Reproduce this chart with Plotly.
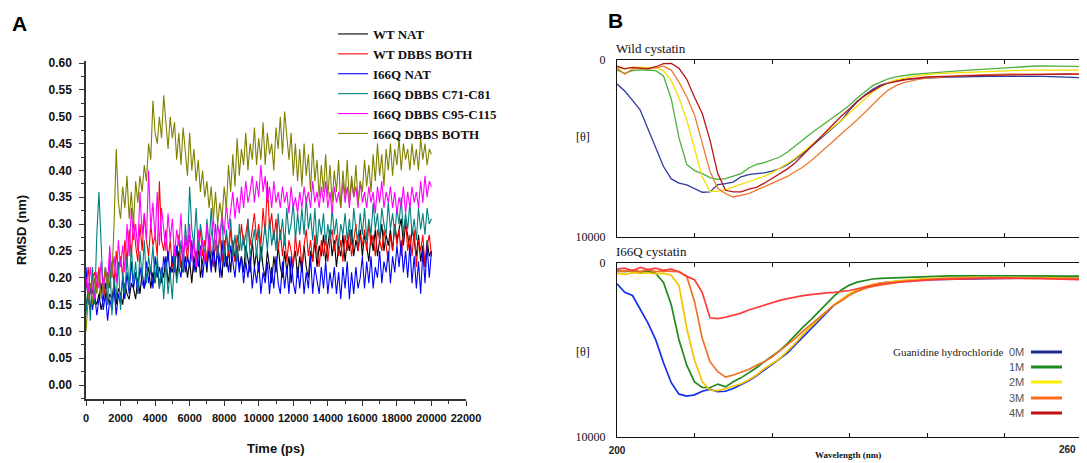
import plotly.graph_objects as go

# Page body has an 8px default margin, so the figure is sized to fit the
# 1087x463 window and reference pixel coords are shifted by that offset.
OFF = 8
W, H = 1087 - OFF, 463 - OFF

# ---------------- Panel A data (RMSD, nm) ----------------
time_ps = list(range(0, 20001, 125))

wt_nat = [
    0.15, 0.17, 0.14, 0.18, 0.16, 0.15, 0.17, 0.14, 0.16, 0.19,
    0.15, 0.17, 0.16, 0.19, 0.15, 0.18, 0.17, 0.15, 0.19, 0.17,
    0.16, 0.19, 0.18, 0.16, 0.20, 0.17, 0.21, 0.18, 0.20, 0.22,
    0.18, 0.21, 0.19, 0.23, 0.18, 0.22, 0.20, 0.24, 0.19, 0.22,
    0.21, 0.24, 0.20, 0.25, 0.22, 0.21, 0.24, 0.20, 0.23, 0.19,
    0.24, 0.21, 0.26, 0.20, 0.23, 0.25, 0.21, 0.27, 0.22, 0.25,
    0.21, 0.26, 0.23, 0.20, 0.27, 0.22, 0.25, 0.21, 0.27, 0.23,
    0.26, 0.22, 0.24, 0.21, 0.26, 0.23, 0.21, 0.27, 0.22, 0.25,
    0.21, 0.26, 0.22, 0.20, 0.25, 0.22, 0.19, 0.24, 0.21, 0.26,
    0.22, 0.20, 0.25, 0.21, 0.24, 0.19, 0.23, 0.25, 0.20, 0.24,
    0.21, 0.26, 0.22, 0.20, 0.25, 0.23, 0.27, 0.22, 0.26, 0.24,
    0.28, 0.23, 0.26, 0.29, 0.24, 0.27, 0.22, 0.26, 0.24, 0.28,
    0.23, 0.27, 0.25, 0.29, 0.24, 0.27, 0.25, 0.29, 0.24, 0.28,
    0.26, 0.23, 0.28, 0.25, 0.29, 0.24, 0.27, 0.30, 0.25, 0.28,
    0.26, 0.29, 0.25, 0.30, 0.27, 0.29, 0.31, 0.26, 0.30, 0.28,
    0.25, 0.29, 0.27, 0.24, 0.28, 0.23, 0.26, 0.22, 0.27, 0.24,
    0.25]
wt_dbbs_both = [
    0.18, 0.22, 0.17, 0.20, 0.21, 0.18, 0.22, 0.17, 0.20, 0.16,
    0.21, 0.18, 0.23, 0.19, 0.25, 0.21, 0.24, 0.20, 0.27, 0.23,
    0.29, 0.24, 0.31, 0.26, 0.23, 0.30, 0.25, 0.32, 0.27, 0.24,
    0.30, 0.26, 0.28, 0.24, 0.38, 0.27, 0.25, 0.29, 0.23, 0.27,
    0.22, 0.26, 0.24, 0.28, 0.22, 0.25, 0.27, 0.23, 0.28, 0.24,
    0.27, 0.22, 0.25, 0.29, 0.24, 0.27, 0.23, 0.28, 0.25, 0.22,
    0.27, 0.24, 0.29, 0.23, 0.26, 0.28, 0.24, 0.29, 0.25, 0.23,
    0.28, 0.25, 0.30, 0.26, 0.28, 0.31, 0.26, 0.29, 0.32, 0.27,
    0.30, 0.26, 0.33, 0.28, 0.38, 0.29, 0.32, 0.27, 0.31, 0.25,
    0.29, 0.24, 0.28, 0.23, 0.27, 0.25, 0.22, 0.28, 0.24, 0.27,
    0.22, 0.26, 0.29, 0.24, 0.27, 0.23, 0.28, 0.25, 0.22, 0.27,
    0.24, 0.28, 0.23, 0.27, 0.29, 0.25, 0.28, 0.24, 0.27, 0.23,
    0.28, 0.25, 0.29, 0.24, 0.27, 0.30, 0.25, 0.28, 0.26, 0.29,
    0.25, 0.30, 0.26, 0.28, 0.24, 0.29, 0.27, 0.25, 0.29, 0.26,
    0.23, 0.28, 0.25, 0.30, 0.26, 0.29, 0.24, 0.28, 0.31, 0.25,
    0.28, 0.24, 0.29, 0.22, 0.27, 0.25, 0.28, 0.22, 0.26, 0.28,
    0.24]
i66q_nat = [
    0.22, 0.15, 0.19, 0.14, 0.17, 0.13, 0.16, 0.19, 0.14, 0.17,
    0.12, 0.16, 0.14, 0.18, 0.13, 0.17, 0.15, 0.20, 0.16, 0.21,
    0.17, 0.23, 0.18, 0.21, 0.17, 0.22, 0.19, 0.18, 0.23, 0.19,
    0.22, 0.18, 0.24, 0.20, 0.22, 0.19, 0.24, 0.21, 0.25, 0.20,
    0.24, 0.21, 0.26, 0.22, 0.20, 0.25, 0.21, 0.24, 0.22, 0.27,
    0.21, 0.25, 0.22, 0.26, 0.20, 0.24, 0.22, 0.25, 0.21, 0.26,
    0.22, 0.25, 0.20, 0.27, 0.22, 0.24, 0.21, 0.26, 0.23, 0.20,
    0.25, 0.21, 0.24, 0.19, 0.23, 0.20, 0.24, 0.18, 0.22, 0.19,
    0.23, 0.17, 0.21, 0.19, 0.23, 0.17, 0.22, 0.18, 0.24, 0.19,
    0.17, 0.23, 0.18, 0.22, 0.17, 0.24, 0.19, 0.17, 0.22, 0.18,
    0.23, 0.17, 0.21, 0.18, 0.24, 0.17, 0.22, 0.19, 0.17, 0.22,
    0.18, 0.23, 0.17, 0.21, 0.18, 0.22, 0.17, 0.21, 0.16, 0.22,
    0.18, 0.23, 0.16, 0.21, 0.17, 0.22, 0.18, 0.20, 0.24, 0.18,
    0.23, 0.19, 0.24, 0.18, 0.22, 0.20, 0.25, 0.19, 0.23, 0.21,
    0.25, 0.19, 0.24, 0.21, 0.26, 0.22, 0.27, 0.21, 0.25, 0.20,
    0.26, 0.19, 0.24, 0.18, 0.23, 0.17, 0.25, 0.19, 0.26, 0.20,
    0.25]
i66q_c71_c81 = [
    0.13, 0.19, 0.12, 0.22, 0.15, 0.28, 0.36, 0.25, 0.17, 0.22,
    0.15, 0.24, 0.13, 0.20, 0.16, 0.23, 0.14, 0.21, 0.17, 0.24,
    0.18, 0.26, 0.19, 0.23, 0.17, 0.25, 0.20, 0.27, 0.19, 0.24,
    0.21, 0.26, 0.19, 0.24, 0.18, 0.22, 0.16, 0.23, 0.17, 0.21,
    0.16, 0.24, 0.19, 0.22, 0.27, 0.21, 0.30, 0.25, 0.37, 0.29,
    0.26, 0.33, 0.25, 0.30, 0.27, 0.24, 0.31, 0.26, 0.33, 0.25,
    0.30, 0.24, 0.28, 0.31, 0.23, 0.29, 0.25, 0.31, 0.24, 0.28,
    0.23, 0.30, 0.25, 0.28, 0.23, 0.31, 0.24, 0.27, 0.29, 0.24,
    0.29, 0.23, 0.27, 0.30, 0.25, 0.31, 0.26, 0.29, 0.25, 0.32,
    0.27, 0.31, 0.26, 0.33, 0.28, 0.30, 0.34, 0.27, 0.32, 0.28,
    0.33, 0.28, 0.35, 0.29, 0.32, 0.27, 0.33, 0.26, 0.31, 0.28,
    0.32, 0.26, 0.30, 0.27, 0.33, 0.28, 0.31, 0.26, 0.30, 0.28,
    0.32, 0.27, 0.31, 0.26, 0.33, 0.29, 0.27, 0.32, 0.28, 0.33,
    0.27, 0.31, 0.28, 0.34, 0.29, 0.32, 0.27, 0.33, 0.30, 0.28,
    0.34, 0.29, 0.32, 0.28, 0.33, 0.30, 0.35, 0.28, 0.32, 0.29,
    0.34, 0.28, 0.31, 0.27, 0.33, 0.29, 0.32, 0.28, 0.33, 0.30,
    0.31]
i66q_c95_c115 = [
    0.20, 0.17, 0.22, 0.18, 0.16, 0.21, 0.18, 0.23, 0.17, 0.22,
    0.19, 0.26, 0.20, 0.24, 0.19, 0.27, 0.22, 0.26, 0.21, 0.30,
    0.24, 0.33, 0.27, 0.30, 0.25, 0.36, 0.28, 0.32, 0.27, 0.40,
    0.29, 0.34, 0.27, 0.36, 0.26, 0.33, 0.29, 0.25, 0.32, 0.27,
    0.31, 0.24, 0.29, 0.26, 0.32, 0.23, 0.28, 0.25, 0.30, 0.23,
    0.27, 0.22, 0.29, 0.24, 0.27, 0.23, 0.30, 0.25, 0.28, 0.31,
    0.25, 0.30, 0.27, 0.32, 0.28, 0.34, 0.29, 0.33, 0.36, 0.31,
    0.35, 0.32, 0.37, 0.33, 0.38, 0.34, 0.36, 0.39, 0.34, 0.38,
    0.35, 0.41, 0.36, 0.39, 0.34, 0.37, 0.33, 0.38, 0.34, 0.36,
    0.33, 0.37, 0.34, 0.36, 0.32, 0.37, 0.33, 0.35, 0.32, 0.36,
    0.33, 0.37, 0.34, 0.36, 0.33, 0.38, 0.34, 0.36, 0.33, 0.37,
    0.34, 0.38, 0.33, 0.36, 0.32, 0.37, 0.34, 0.36, 0.33, 0.38,
    0.34, 0.37, 0.33, 0.38, 0.35, 0.37, 0.33, 0.38, 0.34, 0.36,
    0.33, 0.37, 0.34, 0.36, 0.32, 0.37, 0.34, 0.38, 0.33, 0.36,
    0.34, 0.37, 0.33, 0.36, 0.32, 0.35, 0.33, 0.37, 0.32, 0.36,
    0.33, 0.37, 0.34, 0.36, 0.33, 0.38, 0.34, 0.39, 0.35, 0.38,
    0.37]
i66q_dbbs_both = [
    0.10, 0.16, 0.19, 0.15, 0.20, 0.17, 0.21, 0.16, 0.19, 0.22,
    0.18, 0.21, 0.20, 0.30, 0.44, 0.34, 0.31, 0.37, 0.33, 0.39,
    0.31, 0.36, 0.30, 0.38, 0.34, 0.39, 0.36, 0.41, 0.38, 0.45,
    0.42, 0.53, 0.47, 0.45, 0.50, 0.46, 0.54, 0.48, 0.44, 0.50,
    0.46, 0.49, 0.42, 0.47, 0.41, 0.48, 0.43, 0.39, 0.47, 0.40,
    0.44, 0.38, 0.42, 0.36, 0.40, 0.35, 0.38, 0.33, 0.37, 0.31,
    0.36, 0.30, 0.34, 0.31, 0.37, 0.33, 0.41, 0.36, 0.43, 0.37,
    0.46, 0.39, 0.44, 0.41, 0.47, 0.40, 0.45, 0.42, 0.48, 0.41,
    0.46, 0.42, 0.49, 0.41, 0.47, 0.43, 0.45, 0.40, 0.48, 0.44,
    0.50, 0.43, 0.51, 0.46, 0.42, 0.47, 0.39, 0.45, 0.38, 0.44,
    0.37, 0.45, 0.39, 0.43, 0.36, 0.45, 0.38, 0.42, 0.35, 0.41,
    0.36, 0.43, 0.35, 0.41, 0.34, 0.40, 0.36, 0.42, 0.33, 0.40,
    0.35, 0.42, 0.34, 0.39, 0.35, 0.41, 0.34, 0.38, 0.36, 0.42,
    0.37, 0.41, 0.36, 0.43, 0.38, 0.45, 0.39, 0.43, 0.37, 0.44,
    0.40, 0.45, 0.39, 0.44, 0.41, 0.46, 0.40, 0.45, 0.42, 0.44,
    0.40, 0.45, 0.41, 0.44, 0.40, 0.46, 0.42, 0.45, 0.41, 0.44,
    0.43]

rmsd_names = ["WT NAT", "WT DBBS BOTH", "I66Q NAT", "I66Q DBBS C71-C81",
              "I66Q DBBS C95-C115", "I66Q DBBS BOTH"]
rmsd_values = [wt_nat, wt_dbbs_both, i66q_nat, i66q_c71_c81, i66q_c95_c115, i66q_dbbs_both]
rmsd_colors = ["#000000", "#ff0000", "#0000ff", "#008080", "#ff00ff", "#808000"]

x_ticks_a = list(range(0, 22001, 2000))
y_ticks_a = [0.00, 0.05, 0.10, 0.15, 0.20, 0.25, 0.30, 0.35, 0.40, 0.45, 0.50, 0.55, 0.60]

# ---------------- Panel B data (CD spectra, [theta]) ----------------
wavelength = list(range(200, 261))

wild_0m = [
    1360, 1750, 2280, 2830, 3900, 5000, 6020, 6720, 6960, 7060,
    7260, 7470, 7450, 7040, 6980, 6900, 6600, 6470, 6420, 6380,
    6280, 6130, 5910, 5620, 5280, 4910, 4530, 4150, 3770, 3400,
    2830, 2360, 1980, 1660, 1415, 1280, 1170, 1090, 1060, 1040,
    1000, 990, 980, 960, 970, 950, 940, 950, 930, 920,
    940, 930, 920, 910, 930, 920, 940, 950, 960, 980,
    1000]
wild_1m = [
    570, 750, 600, 560, 580, 600, 900, 2200, 4400, 5900,
    6250, 6420, 6650, 6750, 6700, 6550, 6420, 6100, 5900, 5800,
    5650, 5480, 5200, 4870, 4500, 4150, 3850, 3550, 3210, 2900,
    2560, 2150, 1800, 1450, 1250, 1060, 950, 870, 820, 780,
    740, 720, 690, 660, 620, 590, 560, 530, 490, 450,
    430, 410, 390, 360, 340, 330, 330, 340, 350, 360,
    380]
wild_2m = [
    450, 480, 420, 400, 430, 420, 600, 1170, 2130, 3400,
    5000, 6600, 7420, 7420, 7320, 7170, 7040, 6890, 6740, 6570,
    6380, 6130, 5850, 5550, 5190, 4810, 4430, 4060, 3740, 3400,
    3020, 2600, 2190, 1790, 1510, 1280, 1130, 1020, 940, 870,
    810, 780, 760, 740, 720, 700, 680, 660, 640, 620,
    600, 590, 580, 570, 570, 560, 560, 560, 570, 570,
    580]
wild_3m = [
    450, 800, 500, 480, 430, 450, 350, 570, 1250, 2080,
    3100, 4700, 6300, 7250, 7550, 7740, 7650, 7550, 7350, 7150,
    6980, 6750, 6580, 6300, 6050, 5700, 5330, 4950, 4550, 4150,
    3780, 3380, 2950, 2500, 2080, 1700, 1450, 1280, 1170, 1080,
    1020, 980, 950, 920, 900, 870, 850, 830, 810, 800,
    790, 790, 800, 810, 820, 830, 820, 810, 800, 790,
    790]
wild_4m = [
    350, 500, 420, 450, 500, 380, 200, 190, 470, 1090,
    2110, 3020, 4530, 6420, 7360, 7450, 7450, 7300, 7200, 6960,
    6700, 6450, 6150, 5800, 5350, 4950, 4450, 4000, 3600, 3150,
    2750, 2330, 2000, 1720, 1480, 1300, 1200, 1130, 1060, 1000,
    960, 940, 920, 910, 900, 890, 880, 870, 860, 850,
    850, 840, 830, 820, 810, 800, 800, 790, 790, 800,
    800]

i66q_0m = [
    1190, 1690, 1870, 2630, 3460, 4420, 5730, 6880, 7540, 7650,
    7580, 7370, 7270, 7400, 7370, 7210, 7000, 6770, 6480, 6170,
    5830, 5500, 5170, 4710, 4250, 3810, 3380, 2920, 2420, 2150,
    1790, 1620, 1400, 1250, 1150, 1100, 1060, 1020, 1000, 980,
    960, 950, 940, 930, 920, 910, 900, 890, 880, 870,
    870, 860, 860, 850, 850, 850, 860, 860, 870, 870,
    880]
i66q_1m = [
    450, 500, 430, 520, 470, 600, 1120, 2400, 4420, 5870,
    6830, 7150, 7170, 6960, 7120, 6830, 6600, 6310, 6020, 5670,
    5350, 5040, 4620, 4130, 3690, 3270, 2810, 2350, 1900, 1540,
    1270, 1100, 1000, 920, 880, 860, 830, 810, 800, 790,
    770, 760, 750, 740, 740, 730, 730, 720, 720, 710,
    710, 710, 720, 720, 730, 730, 740, 740, 750, 750,
    760]
i66q_2m = [
    600, 650, 550, 600, 560, 620, 580, 700, 1300, 3750,
    5580, 6830, 7310, 7330, 7230, 7100, 6940, 6730, 6440, 6080,
    5810, 5500, 5060, 4620, 4100, 3650, 3190, 2790, 2400, 2080,
    1770, 1540, 1350, 1230, 1150, 1090, 1040, 990, 960, 930,
    900, 880, 870, 860, 850, 840, 830, 830, 820, 820,
    810, 810, 820, 820, 830, 840, 850, 860, 870, 880,
    890]
i66q_3m = [
    500, 450, 420, 480, 400, 500, 450, 480, 500, 770,
    2210, 4330, 5670, 6250, 6560, 6440, 6270, 6120, 5880, 5670,
    5400, 5040, 4710, 4330, 3920, 3540, 3130, 2750, 2420, 2150,
    1850, 1630, 1460, 1350, 1270, 1200, 1130, 1060, 1020, 980,
    940, 920, 900, 880, 870, 860, 860, 850, 850, 850,
    860, 860, 870, 870, 880, 880, 890, 890, 900, 900,
    900]
i66q_4m = [
    350, 300, 450, 250, 380, 300, 420, 350, 500, 770,
    960, 1700, 3150, 3200, 3120, 3000, 2880, 2700, 2560, 2400,
    2250, 2150, 2050, 1950, 1880, 1820, 1760, 1720, 1690, 1640,
    1580, 1480, 1380, 1270, 1200, 1150, 1110, 1080, 1050, 1010,
    980, 960, 940, 930, 910, 900, 890, 880, 870, 870,
    860, 860, 870, 880, 890, 900, 920, 930, 940, 950,
    960]

conc_labels = ["0M", "1M", "2M", "3M", "4M"]
wild_values = [wild_0m, wild_1m, wild_2m, wild_3m, wild_4m]
i66q_values = [i66q_0m, i66q_1m, i66q_2m, i66q_3m, i66q_4m]
wild_colors = ["#2e3a9e", "#4cb03c", "#f2e000", "#ee7a30", "#b5161b"]
i66q_colors = ["#1430e6", "#1f8a1f", "#f5c400", "#f07024", "#ff3b3b"]
legend_colors = ["#1c2a8c", "#1e8a1e", "#ffee00", "#ff6a1a", "#c01010"]
wl_ticks = [200, 210, 220, 230, 240, 250, 260]


def px(x):
    return (x - OFF) / W


def py(y):
    return 1 - (y - OFF) / H


fig = go.Figure()

for name, vals, col in zip(rmsd_names, rmsd_values, rmsd_colors):
    fig.add_trace(go.Scatter(x=time_ps, y=vals, mode="lines", name=name,
                             line=dict(color=col, width=1.1),
                             xaxis="x", yaxis="y", showlegend=True))

for lab, vals, col in zip(conc_labels, wild_values, wild_colors):
    fig.add_trace(go.Scatter(x=wavelength, y=vals, mode="lines", name="Wild " + lab,
                             line=dict(color=col, width=1.3),
                             xaxis="x2", yaxis="y2", showlegend=False))

for lab, vals, col in zip(conc_labels, i66q_values, i66q_colors):
    fig.add_trace(go.Scatter(x=wavelength, y=vals, mode="lines", name="I66Q " + lab,
                             line=dict(color=col, width=1.7),
                             xaxis="x3", yaxis="y3", showlegend=False))

sans_x = dict(family="Liberation Sans, Arial", size=11, color="#111", weight="bold")
sans_y = dict(family="Liberation Sans, Arial", size=12, color="#111", weight="bold")
serif = dict(family="Liberation Serif, Times New Roman", size=12, color="#111")
wl_font = dict(family="Liberation Sans, Arial", size=10, color="#222", weight="bold")

bx = [px(617), px(1082)]

fig.update_layout(
    width=W, height=H,
    margin=dict(l=0, r=0, t=0, b=0, autoexpand=False),
    paper_bgcolor="white", plot_bgcolor="white",
    xaxis=dict(domain=[px(86), px(466)], range=[0, 22000],
               tickvals=x_ticks_a, ticktext=[str(v) for v in x_ticks_a],
               showline=True, linecolor="#333", linewidth=1.5,
               ticks="outside", ticklen=5, tickwidth=1.3, tickcolor="#333",
               minor=dict(dtick=1000, ticklen=3, tickcolor="#333", ticks="outside"),
               showgrid=False, zeroline=False, tickfont=sans_x, anchor="y",
               ticklabelstandoff=3, automargin=False),
    yaxis=dict(domain=[py(399), py(61)], range=[-0.026, 0.604],
               tickvals=y_ticks_a, ticktext=["%.2f" % v for v in y_ticks_a],
               showline=True, linecolor="#333", linewidth=1.5,
               ticks="outside", ticklen=5, tickwidth=1.3, tickcolor="#333",
               minor=dict(dtick=0.025, tick0=0.025, ticklen=3, tickcolor="#333", ticks="outside"),
               showgrid=False, zeroline=False, tickfont=sans_y, anchor="x",
               ticklabelstandoff=5, automargin=False),
    xaxis2=dict(domain=bx, range=[200, 260], tickvals=wl_ticks,
                showticklabels=False, showline=True, mirror="ticks",
                linecolor="#111", linewidth=1.2, ticks="inside", ticklen=4,
                tickcolor="#111", showgrid=False, zeroline=False, anchor="y2",
                automargin=False),
    yaxis2=dict(domain=[py(237), py(60)], range=[10000, 0],
                tickvals=[0, 10000], ticktext=["0", "10000"],
                showline=True, mirror=True, linecolor="#111", linewidth=1.2,
                ticks="", showgrid=False, zeroline=False, tickfont=serif,
                ticklabelstandoff=8, anchor="x2", automargin=False),
    xaxis3=dict(domain=bx, range=[200, 260], tickvals=wl_ticks,
                ticktext=["200", "", "", "", "", "", ""],
                showline=True, mirror="ticks",
                linecolor="#111", linewidth=1.2, ticks="inside", ticklen=4,
                tickcolor="#111", showgrid=False, zeroline=False,
                tickfont=wl_font, ticklabelstandoff=4, anchor="y3",
                automargin=False),
    yaxis3=dict(domain=[py(437), py(263)], range=[10000, 0],
                tickvals=[0, 10000], ticktext=["0", "10000"],
                showline=True, mirror=True, linecolor="#111", linewidth=1.2,
                ticks="", showgrid=False, zeroline=False, tickfont=serif,
                ticklabelstandoff=8, anchor="x3", automargin=False),
    legend=dict(x=px(333), y=py(19), xanchor="left", yanchor="top",
                bgcolor="rgba(0,0,0,0)", itemwidth=30, tracegroupgap=0,
                font=dict(family="Liberation Serif, Times New Roman", size=13,
                          color="#111", weight="bold")),
)

ann = []


def add_text(text, x, y, font, xanchor="center", yanchor="middle", angle=0, xref="paper", xval=None):
    ann.append(dict(text=text, x=(px(x) if xval is None else xval), y=py(y),
                    xref=xref, yref="paper", xanchor=xanchor, yanchor=yanchor,
                    textangle=angle, showarrow=False, font=font))


big = dict(family="Liberation Sans, Arial", size=21, color="#000", weight="bold")
lab_b = dict(family="Liberation Sans, Arial", size=13, color="#111", weight="bold")
ser13 = dict(family="Liberation Serif", size=13, color="#111")

add_text("A", 19, 24, big)
add_text("B", 615, 20, big)
add_text("RMSD (nm)", 21, 230, lab_b, angle=-90)
add_text("Time (ps)", 0, 448, lab_b, xref="x", xval=11000)
add_text("Wild cystatin", 614, 48, ser13, xanchor="left")
add_text("I66Q cystatin", 614, 251, ser13, xanchor="left")
for yy in (137, 352):
    add_text("[\u03b8]", 583, yy, dict(family="Liberation Serif", size=12, color="#111"))
add_text("Wavelength (nm)", 848, 455,
         dict(family="Liberation Serif", size=9, color="#111", weight="bold"))
# right-end tick label of the wavelength axis, kept inside the window
add_text(str(wl_ticks[-1]), 1078, 449, wl_font, xanchor="right")

leg_rows = [352, 367, 382, 398, 413]
shapes = []
for i, (lab, col, yy) in enumerate(zip(conc_labels, legend_colors, leg_rows)):
    if i == 0:
        add_text("Guanidine hydrochloride", 1005, yy,
                 dict(family="Liberation Serif", size=11, color="#222"), xanchor="right")
    add_text(lab, 1026, yy, dict(family="Liberation Sans, Arial", size=11, color="#555"),
             xanchor="right")
    shapes.append(dict(type="line", xref="paper", yref="paper",
                       x0=px(1031), x1=px(1062), y0=py(yy), y1=py(yy),
                       line=dict(color=col, width=3)))

fig.update_layout(annotations=ann, shapes=shapes)

fig.write_html("out.html")
